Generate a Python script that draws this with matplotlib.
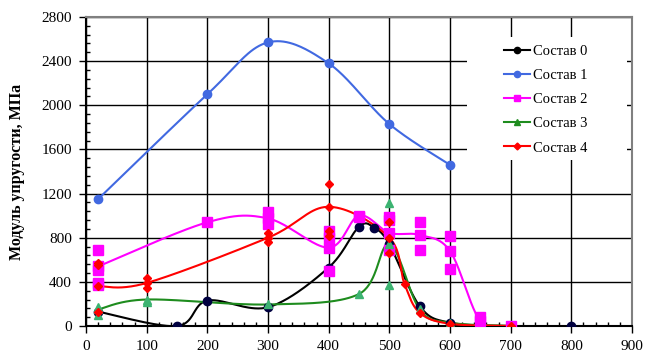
import matplotlib.pyplot as plt
import numpy as np
from matplotlib.patches import Rectangle
from matplotlib.ticker import MultipleLocator

plt.rcParams['font.family'] = ['Liberation Serif', 'DejaVu Serif']

# smoothed-line points (x = temperature, y = modulus, MPa)
x0 = [20, 150, 200, 300, 400, 450, 475, 500, 550, 600, 700, 800]
y0 = [130, 0, 230, 170, 530, 900, 890, 740, 180, 30, 0, 0]

x1 = [20, 200, 300, 400, 500, 600]
y1 = [1150, 2100, 2570, 2380, 1830, 1460]

x2 = [20, 200, 300, 400, 450, 500, 550, 600, 650, 700]
y2 = [540, 940, 975, 710, 1000, 845, 825, 680, 45, 0]

x3 = [20, 100, 300, 450, 500, 550, 600, 700]
y3 = [150, 240, 195, 290, 740, 150, 30, 0]

x4 = [20, 100, 300, 400, 500, 525, 550, 600, 700]
y4 = [360, 390, 800, 1080, 800, 380, 120, 20, 0]

# separate measured points
s2x = [20, 20, 20, 20, 300, 300, 400, 400, 400, 450, 500, 500, 500, 550, 550, 600, 600, 650]
s2y = [690, 510, 390, 375, 1030, 920, 860, 795, 495, 990, 990, 960, 690, 946, 690, 816, 514, 85]

s3x = [20, 20, 100, 500, 500]
s3y = [175, 100, 220, 1115, 372]

s4x = [20, 20, 20, 100, 100, 300, 300, 400, 400, 400, 500, 500]
s4y = [570, 550, 130, 433, 342, 765, 841, 1288, 862, 820, 946, 659]

names = ["Состав 0", "Состав 1", "Состав 2", "Состав 3", "Состав 4"]


def smooth(xs, ys, n=40):
    p = np.column_stack([xs, ys]).astype(float)
    p = np.vstack([p[0], p, p[-1]])
    t = np.linspace(0, 1, n)[:, None]
    segs = []
    for i in range(1, len(p) - 2):
        a, b, c, d = p[i - 1], p[i], p[i + 1], p[i + 2]
        segs.append(0.5 * (2 * b + (c - a) * t + (2 * a - 5 * b + 4 * c - d) * t ** 2
                           + (-a + 3 * b - 3 * c + d) * t ** 3))
    s = np.vstack(segs)
    return s[:, 0], s[:, 1]


fig = plt.figure(figsize=(6.51, 3.56), dpi=100)
ax = fig.add_axes([86 / 651, 30 / 356, 546 / 651, 309 / 356])

series = [
    (x0, y0, None, None, "black", "#000040", "o", 6, 4.5),
    (x1, y1, None, None, "#4169E1", "#4169E1", "o", 6, 4.5),
    (x2, y2, s2x, s2y, "#FF00FF", "#FF00FF", "s", 6.5, 5),
    (x3, y3, s3x, s3y, "#1E8C1E", "#3CB371", "^", 6, 5),
    (x4, y4, s4x, s4y, "#FF0000", "#FF0000", "D", 4.5, 3.5),
]

handles = []
for (xs, ys, sx, sy, lc, mc, mk, ms, lms), name in zip(series, names):
    cx, cy = smooth(xs, ys)
    ax.plot(cx, cy, color=lc, lw=1.5, zorder=3)
    ax.plot(xs, ys, ls="none", marker=mk, ms=ms, color=mc, zorder=4)
    if sx is not None:
        ax.plot(sx, sy, ls="none", marker=mk, ms=ms, color=mc, zorder=4)
    h, = ax.plot([], [], color=lc, lw=1.5, marker=mk, ms=lms, mfc=lc, mec=lc)
    handles.append(h)

ax.set_xlim(0, 900)
ax.set_ylim(0, 2800)
ax.xaxis.set_major_locator(MultipleLocator(100))
ax.xaxis.set_minor_locator(MultipleLocator(20))
ax.yaxis.set_major_locator(MultipleLocator(400))
ax.yaxis.set_minor_locator(MultipleLocator(80))
ax.grid(True, which="major", color="black", lw=1, zorder=1)
ax.set_axisbelow(True)
ax.tick_params(which="major", direction="out", length=5, width=1, labelsize=11, pad=5)
ax.tick_params(which="minor", direction="in", length=3, width=1)
for side in ["top", "right"]:
    ax.spines[side].set_color("#808080")
for side in ["left", "bottom", "top", "right"]:
    ax.spines[side].set_linewidth(1.5)

ax.set_ylabel("Модуль упругости, МПа", fontsize=11.5, fontweight="bold", labelpad=12)

ax.add_patch(Rectangle((0.698, 0.537), 0.293, 0.398, transform=ax.transAxes,
                       facecolor="white", edgecolor="none", zorder=2))
ax.legend(handles, names, loc="upper left", bbox_to_anchor=(0.766, 0.91),
          frameon=False, fontsize=10.5, handlelength=1.8, handletextpad=0.2,
          labelspacing=0.75, borderpad=0, borderaxespad=0)

fig.savefig("out.png", dpi=100)
